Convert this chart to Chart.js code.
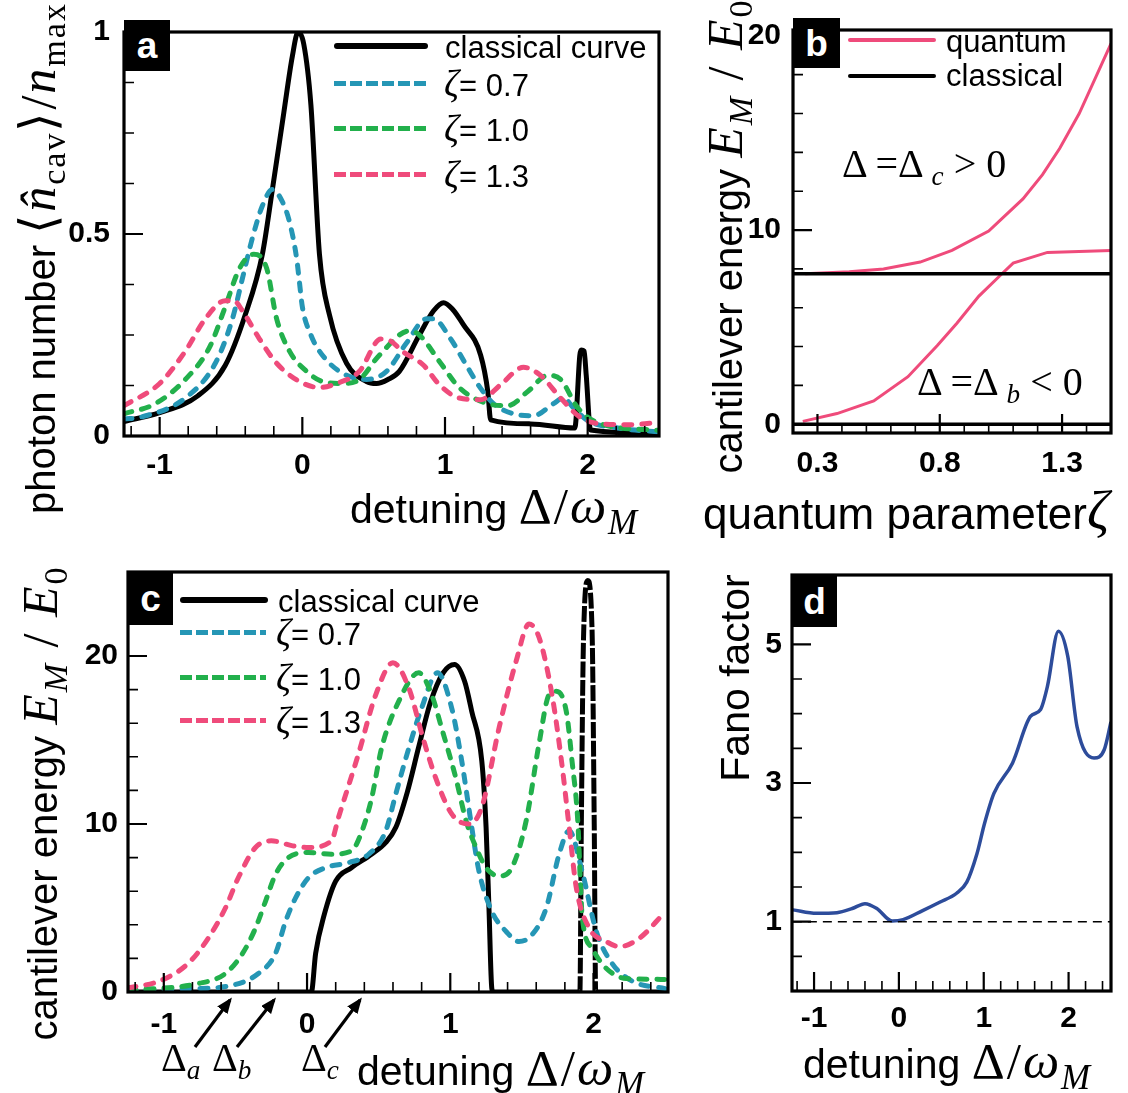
<!DOCTYPE html>
<html>
<head>
<meta charset="utf-8">
<script src="https://cdn.jsdelivr.net/npm/chart.js@4.4.1/dist/chart.umd.min.js"></script>
<style>
  body { margin: 0; background: #fff; width: 1128px; height: 1093px; position: relative; overflow: hidden;
         font-family: "Liberation Sans", Arial, sans-serif; }
  canvas { position: absolute; left: 0; top: 0; }
  .t { position: absolute; white-space: nowrap; color: #000; line-height: 1; }
  .m { font-family: "Liberation Serif", serif; }
  .m i { font-style: italic; }
  .big { font-size: 1.25em; letter-spacing: 2px; }
  .z { font-size: 1.2em; }
  sub { font-size: 0.68em; vertical-align: -0.3em; line-height: 0; }
  .yt { transform: translate(-50%, -50%) rotate(-90deg); }
  .xt { transform: translateY(-50%); }
  .box { position: absolute; background: #000; color: #fff; font-weight: bold; font-size: 37px;
         display: flex; align-items: center; justify-content: center; line-height: 1; }
  .leg { position: absolute; height: 5px; }
  .solid { height: 6px; background: #000; border-radius: 3px; }
</style>
</head>
<body>
<canvas id="cA" width="1128" height="1093"></canvas>
<canvas id="cB" width="1128" height="1093"></canvas>
<canvas id="cC" width="1128" height="1093"></canvas>
<canvas id="cD" width="1128" height="1093"></canvas>

<!-- panel labels -->
<div class="box" style="left:124px;top:20px;width:46px;height:51px">a</div>
<div class="box" style="left:793px;top:18px;width:47px;height:50px">b</div>
<div class="box" style="left:128px;top:572px;width:45px;height:53px">c</div>
<div class="box" style="left:792px;top:575px;width:45px;height:52px">d</div>

<!-- axis titles -->
<div class="t yt" style="left:38px;top:258px;font-size:40px">photon number <span class="m big">&#x27E8;<i>n&#x0302;</i><sub>cav</sub>&#x27E9;/<i>n</i><sub>max</sub></span></div>
<div class="t xt" style="left:350px;top:506px;font-size:41px">detuning <span class="m big">&Delta;/<i>&omega;</i><sub><i>M</i></sub></span></div>
<div class="t yt" style="left:725px;top:236px;font-size:40px">cantilever energy <span class="m big"><i>E</i><sub><i>M</i></sub> / <i>E</i><sub>0</sub></span></div>
<div class="t xt" style="left:703px;top:510px;font-size:44px">quantum parameter<span class="m big"><i>&zeta;</i></span></div>
<div class="t yt" style="left:40px;top:803px;font-size:40px">cantilever energy <span class="m big"><i>E</i><sub><i>M</i></sub> / <i>E</i><sub>0</sub></span></div>
<div class="t xt" style="left:357px;top:1068px;font-size:41px">detuning <span class="m big">&Delta;/<i>&omega;</i><sub><i>M</i></sub></span></div>
<div class="t yt" style="left:735px;top:678px;font-size:41px">Fano factor</div>
<div class="t xt" style="left:803px;top:1061px;font-size:41px">detuning <span class="m big">&Delta;/<i>&omega;</i><sub><i>M</i></sub></span></div>

<!-- legend a -->
<div class="leg solid" style="left:334px;top:43px;width:94px"></div>
<div class="t xt" style="left:445px;top:47px;font-size:31px">classical curve</div>
<div class="leg" style="left:334px;top:81px;width:92px;background:repeating-linear-gradient(90deg,#2596b5 0 12px,transparent 12px 16px)"></div>
<div class="t xt" style="left:444px;top:84px;font-size:31px"><span class="m z"><i>&zeta;</i></span>= 0.7</div>
<div class="leg" style="left:334px;top:126px;width:92px;background:repeating-linear-gradient(90deg,#22b04c 0 12px,transparent 12px 16px)"></div>
<div class="t xt" style="left:444px;top:129px;font-size:31px"><span class="m z"><i>&zeta;</i></span>= 1.0</div>
<div class="leg" style="left:334px;top:172px;width:92px;background:repeating-linear-gradient(90deg,#ef4b7b 0 12px,transparent 12px 16px)"></div>
<div class="t xt" style="left:444px;top:175px;font-size:31px"><span class="m z"><i>&zeta;</i></span>= 1.3</div>

<!-- legend b -->
<div class="leg" style="left:848px;top:38px;width:88px;height:4px;background:#ef4b7b;border-radius:2px"></div>
<div class="t xt" style="left:946px;top:41px;font-size:31px">quantum</div>
<div class="leg" style="left:848px;top:74px;width:88px;height:4px;background:#000;border-radius:2px"></div>
<div class="t xt" style="left:946px;top:75px;font-size:31px">classical</div>
<div class="t xt m" style="left:842px;top:164px;font-size:40px">&Delta; =&Delta; <sub><i>c</i></sub> &gt; 0</div>
<div class="t xt m" style="left:917px;top:382px;font-size:40px">&Delta; =&Delta; <sub><i>b</i></sub> &lt; 0</div>

<!-- legend c -->
<div class="leg solid" style="left:180px;top:597px;width:88px"></div>
<div class="t xt" style="left:278px;top:601px;font-size:31px">classical curve</div>
<div class="leg" style="left:180px;top:630px;width:86px;background:repeating-linear-gradient(90deg,#2596b5 0 12px,transparent 12px 16px)"></div>
<div class="t xt" style="left:276px;top:633px;font-size:31px"><span class="m z"><i>&zeta;</i></span>= 0.7</div>
<div class="leg" style="left:180px;top:675px;width:86px;background:repeating-linear-gradient(90deg,#22b04c 0 12px,transparent 12px 16px)"></div>
<div class="t xt" style="left:276px;top:678px;font-size:31px"><span class="m z"><i>&zeta;</i></span>= 1.0</div>
<div class="leg" style="left:180px;top:718px;width:86px;background:repeating-linear-gradient(90deg,#ef4b7b 0 12px,transparent 12px 16px)"></div>
<div class="t xt" style="left:276px;top:721px;font-size:31px"><span class="m z"><i>&zeta;</i></span>= 1.3</div>

<!-- arrows c -->
<svg width="1128" height="1093" style="position:absolute;left:0;top:0">
  <defs><marker id="ah" markerWidth="5" markerHeight="4" refX="4" refY="2" orient="auto">
    <path d="M0,0 L5,2 L0,4 z" fill="#000"/></marker></defs>
  <line x1="195" y1="1047" x2="230" y2="1000" stroke="#000" stroke-width="3.2" marker-end="url(#ah)"/>
  <line x1="237" y1="1047" x2="274" y2="1000" stroke="#000" stroke-width="3.2" marker-end="url(#ah)"/>
  <line x1="325" y1="1047" x2="360" y2="1000" stroke="#000" stroke-width="3.2" marker-end="url(#ah)"/>
</svg>
<div class="t xt m" style="left:161px;top:1058px;font-size:40px">&Delta;<sub><i>a</i></sub></div>
<div class="t xt m" style="left:212px;top:1058px;font-size:40px">&Delta;<sub><i>b</i></sub></div>
<div class="t xt m" style="left:301px;top:1058px;font-size:40px">&Delta;<sub><i>c</i></sub></div>

<script>
// ---------- panel a: photon number vs detuning ----------
const aClassX = [-1.25, -1.0, -0.73, -0.54, -0.40, -0.28, -0.21, -0.13, -0.07, -0.03, 0.01, 0.06, 0.12, 0.19, 0.31, 0.45, 0.52, 0.60, 0.68, 0.82, 0.92, 0.99, 1.05, 1.13, 1.25, 1.30, 1.32, 1.60, 1.91, 1.945, 1.955, 1.975, 1.99, 2.02, 2.5];
const aClassY = [0.036, 0.058, 0.10, 0.175, 0.30, 0.45, 0.61, 0.80, 0.94, 1.0, 0.97, 0.82, 0.45, 0.30, 0.18, 0.135, 0.13, 0.14, 0.16, 0.25, 0.31, 0.33, 0.315, 0.275, 0.20, 0.11, 0.04, 0.03, 0.02, 0.20, 0.213, 0.21, 0.15, 0.015, 0.007];
const aZ07X = [-1.25, -1.13, -0.82, -0.61, -0.49, -0.42, -0.35, -0.28, -0.21, -0.14, -0.09, -0.04, -0.02, 0.0, 0.06, 0.12, 0.26, 0.45, 0.59, 0.73, 0.87, 0.92, 1.04, 1.15, 1.25, 1.34, 1.48, 1.62, 1.76, 1.83, 1.90, 2.0, 2.21, 2.5];
const aZ07Y = [0.042, 0.047, 0.094, 0.18, 0.29, 0.39, 0.49, 0.57, 0.61, 0.58, 0.53, 0.44, 0.38, 0.32, 0.25, 0.21, 0.16, 0.14, 0.16, 0.23, 0.29, 0.29, 0.24, 0.175, 0.118, 0.08, 0.055, 0.05, 0.08, 0.094, 0.07, 0.038, 0.02, 0.01];
const aZ10X = [-1.25, -1.03, -0.82, -0.65, -0.54, -0.44, -0.34, -0.25, -0.18, -0.09, 0.03, 0.14, 0.28, 0.40, 0.54, 0.75, 0.82, 0.97, 1.10, 1.30, 1.44, 1.58, 1.72, 1.81, 1.93, 2.09, 2.5];
const aZ10Y = [0.055, 0.08, 0.14, 0.22, 0.32, 0.415, 0.45, 0.415, 0.29, 0.21, 0.16, 0.135, 0.13, 0.14, 0.20, 0.26, 0.25, 0.18, 0.12, 0.08, 0.075, 0.11, 0.15, 0.14, 0.07, 0.03, 0.014];
const aZ13X = [-1.25, -1.0, -0.82, -0.68, -0.54, -0.48, -0.42, -0.30, -0.18, -0.02, 0.12, 0.24, 0.40, 0.55, 0.62, 0.70, 0.85, 0.96, 1.10, 1.25, 1.39, 1.55, 1.67, 1.81, 1.95, 2.09, 2.3, 2.5];
const aZ13Y = [0.075, 0.13, 0.21, 0.29, 0.335, 0.335, 0.31, 0.24, 0.18, 0.135, 0.12, 0.13, 0.16, 0.24, 0.235, 0.21, 0.175, 0.127, 0.094, 0.09, 0.127, 0.17, 0.15, 0.094, 0.046, 0.03, 0.028, 0.034];

// ---------- panel b: energy vs quantum parameter ----------
const bUpperX = [0.25, 0.43, 0.57, 0.72, 0.85, 1.0, 1.14, 1.22, 1.29, 1.37, 1.5];
const bUpperY = [7.75, 7.85, 8.0, 8.35, 8.95, 9.95, 11.6, 12.85, 14.2, 16.0, 19.6];
const bLowerX = [0.24, 0.38, 0.53, 0.67, 0.79, 0.87, 0.96, 1.05, 1.1, 1.24, 1.5];
const bLowerY = [0.15, 0.55, 1.2, 2.45, 4.05, 5.2, 6.6, 7.7, 8.3, 8.85, 8.95];
const bClassX = [0.2, 1.5];
const bClassHigh = [7.75, 7.75];
const bClassLow = [0, 0];

// ---------- panel c: energy vs detuning ----------
const cClassX = [-1.25, 0.03, 0.06, 0.12, 0.2, 0.31, 0.45, 0.55, 0.62, 0.70, 0.78, 0.86, 0.95, 1.03, 1.1, 1.15, 1.22, 1.25, 1.27, 1.29, 1.30, 1.905, 1.915, 1.93, 1.96, 1.99, 2.005, 2.015, 2.5];
const cClassY = [0, 0, 2.3, 4.6, 6.6, 7.4, 8.2, 8.9, 9.8, 11.9, 14.6, 17.2, 19.0, 19.5, 18.5, 16.7, 13.75, 9.8, 5.0, 0.2, 0, 0, 10, 21, 24.5, 21.5, 10, 0, 0];
const cZ07X = [-1.25, -0.8, -0.55, -0.34, -0.22, -0.15, -0.08, 0.01, 0.13, 0.29, 0.43, 0.55, 0.62, 0.71, 0.80, 0.91, 1.01, 1.08, 1.15, 1.2, 1.29, 1.39, 1.48, 1.57, 1.67, 1.76, 1.83, 1.92, 2.02, 2.13, 2.27, 2.5];
const cZ07Y = [0.1, 0.2, 0.35, 1.1, 2.3, 4.2, 5.6, 6.8, 7.4, 7.7, 8.2, 9.6, 11.8, 14.5, 16.9, 19.0, 16.9, 13.75, 9.8, 7.2, 4.8, 3.6, 3.0, 3.4, 5.0, 8.2, 9.6, 7.2, 3.6, 1.7, 0.65, 0.2];
const cZ10X = [-1.25, -0.76, -0.57, -0.45, -0.36, -0.29, -0.22, -0.13, 0.01, 0.17, 0.31, 0.38, 0.45, 0.52, 0.64, 0.78, 0.87, 0.94, 1.04, 1.11, 1.18, 1.25, 1.34, 1.43, 1.53, 1.62, 1.69, 1.74, 1.81, 1.85, 1.89, 1.92, 1.99, 2.09, 2.23, 2.5];
const cZ10Y = [0.1, 0.5, 1.1, 2.3, 3.8, 5.4, 7.0, 8.0, 8.3, 8.2, 8.4, 9.5, 11.5, 14.5, 17.3, 19.0, 17.7, 15.7, 12.7, 10.2, 8.6, 7.4, 6.9, 7.4, 10.2, 14.8, 17.7, 17.9, 16.7, 13.75, 10.2, 4.6, 2.6, 1.4, 0.8, 0.75];
const cZ13X = [-1.25, -1.03, -0.83, -0.69, -0.57, -0.48, -0.36, -0.25, -0.10, 0.01, 0.17, 0.22, 0.36, 0.48, 0.60, 0.71, 0.81, 0.90, 1.01, 1.13, 1.22, 1.34, 1.46, 1.55, 1.62, 1.71, 1.78, 1.83, 1.88, 1.97, 2.09, 2.18, 2.32, 2.46, 2.5];
const cZ13Y = [0.25, 0.65, 1.7, 3.2, 5.0, 6.8, 8.6, 9.0, 8.7, 8.6, 9.0, 10.4, 14.2, 17.7, 19.6, 18.1, 15.1, 12.7, 10.6, 10.0, 11.0, 15.7, 19.7, 21.9, 21.1, 17.7, 13.5, 9.8, 6.2, 3.8, 3.0, 2.7, 3.2, 4.4, 4.8];

// ---------- panel d: Fano factor ----------
const dFanoX = [-1.25, -0.97, -0.73, -0.55, -0.40, -0.26, -0.08, 0.05, 0.28, 0.48, 0.68, 0.80, 0.92, 1.01, 1.12, 1.34, 1.55, 1.67, 1.75, 1.88, 1.99, 2.10, 2.30, 2.42, 2.5];
const dFanoY = [1.17, 1.12, 1.13, 1.19, 1.26, 1.19, 1.01, 1.03, 1.16, 1.28, 1.41, 1.57, 1.98, 2.42, 2.85, 3.29, 3.96, 4.06, 4.39, 5.19, 4.83, 3.81, 3.36, 3.48, 3.88];
const dRefX = [-1.25, 2.5];
const dRefY = [1, 1];

// ---------- tick labels ----------
const detTicks = [-1, 0, 1, 2];
const detLabels = ['-1', '0', '1', '2'];
const aYTicks = [0, 0.5, 1];
const aYLabels = ['0', '0.5', '1'];
const bXTicks = [0.3, 0.8, 1.3];
const bXLabels = ['0.3', '0.8', '1.3'];
const eYTicks = [0, 10, 20];
const eYLabels = ['0', '10', '20'];
const dYTicks = [1, 3, 5];
const dYLabels = ['1', '3', '5'];

const BLUE = '#2596b5', GREEN = '#22b04c', PINK = '#ef4b7b', NAVY = '#2d4c9b';
const pts = (xs, ys) => xs.map((x, i) => ({x: x, y: ys[i]}));
const steps = (lo, hi, st) => { const r = []; for (let v = lo; v <= hi + 1e-9; v += st) r.push(+v.toFixed(4)); return r; };

const framePlugin = {
    id: 'frame',
    afterDatasetsDraw(chart, args, o) {
        const {ctx, chartArea: a, scales: {x, y}} = chart;
        ctx.save();
        ctx.strokeStyle = '#000';
        ctx.lineWidth = 1.6;
        ctx.beginPath();
        o.xMinor.forEach(v => { const p = x.getPixelForValue(v); ctx.moveTo(p, a.bottom); ctx.lineTo(p, a.bottom - 10); });
        o.yMinor.forEach(v => { const p = y.getPixelForValue(v); ctx.moveTo(a.left, p); ctx.lineTo(a.left + 10, p); });
        ctx.stroke();
        ctx.lineWidth = 2.2;
        ctx.beginPath();
        o.xMajor.forEach(v => { const p = x.getPixelForValue(v); ctx.moveTo(p, a.bottom); ctx.lineTo(p, a.bottom - 19); });
        o.yMajor.forEach(v => { const p = y.getPixelForValue(v); ctx.moveTo(a.left, p); ctx.lineTo(a.left + 19, p); });
        ctx.stroke();
        ctx.lineWidth = 3.2;
        ctx.strokeRect(a.left, a.top, a.right - a.left, a.bottom - a.top);
        ctx.restore();
    }
};

const tickFont = {family: '"Liberation Sans", Arial, sans-serif', weight: 'bold', size: 30};

function makePanel(id, box, xr, yr, xTicks, xLabels, yTicks, yLabels, xMinor, yMinor, padX, padY, datasets) {
    const YW = 100, XH = 60;
    return new Chart(document.getElementById(id), {
        type: 'line',
        data: {datasets: datasets},
        plugins: [framePlugin],
        options: {
            responsive: false,
            animation: false,
            events: [],
            layout: {padding: {left: box.L - YW, top: box.T, right: 1128 - box.R, bottom: 1093 - box.B - XH}},
            elements: {point: {radius: 0}, line: {cubicInterpolationMode: 'monotone'}},
            plugins: {legend: {display: false}, tooltip: {enabled: false}, frame: {xMajor: xTicks, yMajor: yTicks, xMinor: xMinor, yMinor: yMinor}},
            scales: {
                x: {
                    type: 'linear', min: xr[0], max: xr[1],
                    grid: {display: false, drawTicks: false}, border: {display: false},
                    afterBuildTicks: s => { s.ticks = xTicks.map(v => ({value: v})); },
                    afterFit: s => { s.height = XH; },
                    ticks: {font: tickFont, color: '#000', padding: padX, autoSkip: false, maxRotation: 0,
                            callback: v => xLabels[xTicks.indexOf(v)]}
                },
                y: {
                    type: 'linear', min: yr[0], max: yr[1],
                    grid: {display: false, drawTicks: false}, border: {display: false},
                    afterBuildTicks: s => { s.ticks = yTicks.map(v => ({value: v})); },
                    afterFit: s => { s.width = YW; },
                    ticks: {font: tickFont, color: '#000', padding: padY, autoSkip: false,
                            callback: v => yLabels[yTicks.indexOf(v)]}
                }
            }
        }
    });
}

const detMinor = steps(-1.2, 2.4, 0.2).filter(v => !detTicks.includes(v));
const dash = (color) => ({borderColor: color, borderWidth: 5, borderDash: [8, 10], borderCapStyle: 'round', fill: false});

makePanel('cA', {L: 124, T: 20, R: 659, B: 436}, [-1.25, 2.5], [0, 1],
    detTicks, detLabels, aYTicks, aYLabels, detMinor, steps(0.125, 0.875, 0.125).filter(v => v !== 0.5), 12, 14, [
    Object.assign({label: 'ζ = 1.3', data: pts(aZ13X, aZ13Y)}, dash(PINK)),
    Object.assign({label: 'ζ = 1.0', data: pts(aZ10X, aZ10Y)}, dash(GREEN)),
    Object.assign({label: 'ζ = 0.7', data: pts(aZ07X, aZ07Y)}, dash(BLUE)),
    {label: 'classical curve', data: pts(aClassX, aClassY), borderColor: '#000', borderWidth: 5, borderJoinStyle: 'round', fill: false}
]);

makePanel('cB', {L: 793, T: 18, R: 1111, B: 433}, [0.2, 1.5], [-0.45, 20.3],
    bXTicks, bXLabels, eYTicks, eYLabels, steps(0.2, 1.5, 0.1).filter(v => !bXTicks.includes(v)), steps(2, 18, 2).filter(v => v !== 10), 13, 12, [
    {label: 'classical', data: pts(bClassX, bClassHigh), borderColor: '#000', borderWidth: 3.5},
    {label: 'classical', data: pts(bClassX, bClassLow), borderColor: '#000', borderWidth: 3.5},
    {label: 'quantum Δc', data: pts(bUpperX, bUpperY), borderColor: PINK, borderWidth: 3, cubicInterpolationMode: 'default', tension: 0},
    {label: 'quantum Δb', data: pts(bLowerX, bLowerY), borderColor: PINK, borderWidth: 3, cubicInterpolationMode: 'default', tension: 0}
]);

makePanel('cC', {L: 128, T: 572, R: 668, B: 992}, [-1.25, 2.52], [0, 25],
    detTicks, detLabels, eYTicks, eYLabels, detMinor, steps(2, 24, 2).filter(v => !eYTicks.includes(v)), 15, 10, [
    Object.assign({label: 'ζ = 1.3', data: pts(cZ13X, cZ13Y)}, dash(PINK)),
    Object.assign({label: 'ζ = 1.0', data: pts(cZ10X, cZ10Y)}, dash(GREEN)),
    Object.assign({label: 'ζ = 0.7', data: pts(cZ07X, cZ07Y)}, dash(BLUE)),
    {label: 'classical curve', data: pts(cClassX, cClassY), borderColor: '#000', borderWidth: 5, fill: false,
     segment: {borderDash: c => (c.p0.parsed.x >= 1.9 && c.p1.parsed.x <= 2.02) ? [16, 2.5] : undefined}}
]);

makePanel('cD', {L: 792, T: 575, R: 1111, B: 991}, [-1.26, 2.5], [0, 6],
    detTicks, detLabels, dYTicks, dYLabels, steps(-1.2, 2.4, 0.2).filter(v => !detTicks.includes(v)), [0.5, 1.5, 2, 2.5, 3.5, 4, 4.5, 5.5], 10, 10, [
    {label: 'reference', data: pts(dRefX, dRefY), borderColor: '#000', borderWidth: 1.5, borderDash: [9, 6]},
    {label: 'Fano factor', data: pts(dFanoX, dFanoY), borderColor: NAVY, borderWidth: 3.5, fill: false}
]);
</script>
</body>
</html>
